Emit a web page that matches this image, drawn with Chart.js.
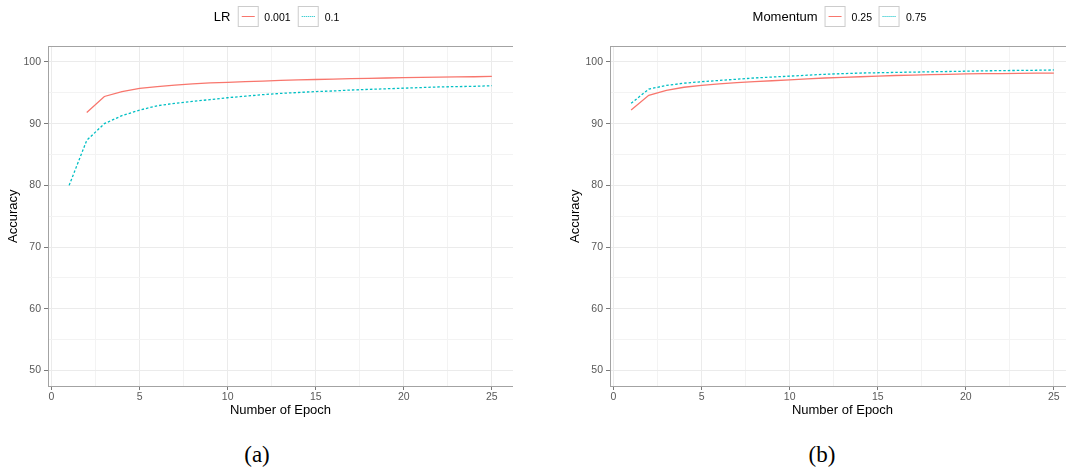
<!DOCTYPE html>
<html lang="en">
<head>
<meta charset="UTF-8">
<title>Accuracy per epoch</title>
<script src="https://cdn.jsdelivr.net/npm/chart.js@4/dist/chart.umd.min.js"></script>
<style>
    html, body { margin: 0; padding: 0; background: #fff; overflow: hidden; }
    #page { position: relative; width: 1066px; height: 472px; overflow: hidden;
            font-family: "Liberation Sans", Arial, sans-serif; }
    #page canvas { position: absolute; top: 0; }
    .legend { position: absolute; top: 6px; display: flex; align-items: center;
              transform: translateX(-50%); white-space: nowrap; color: #000; }
    .legend .title { font-size: 13px; margin-right: 7px; }
    .legend .key { width: 21px; height: 21px; border: 1px solid #cccccc; box-sizing: border-box; position: relative; }
    .legend .key span { position: absolute; left: 3px; right: 3px; top: 9px; border-top-width: 1.3px; }
    .legend .label { font-size: 10.5px; margin: 0 7px 0 6px; }
    .caption { position: absolute; top: 443px; line-height: 1; transform: translateX(-50%);
               font-family: "Liberation Serif", "Times New Roman", serif; font-size: 23px; }
</style>
</head>
<body>
<div id="page">
    <canvas id="chartLr" width="513" height="430" style="left:0px"></canvas>
    <canvas id="chartMomentum" width="513" height="430" style="left:562px"></canvas>
    <div class="legend" id="legendLr" style="left:280px"></div>
    <div class="legend" id="legendMomentum" style="left:843px"></div>
    <div class="caption" style="left:257px">(a)</div>
    <div class="caption" style="left:822px">(b)</div>
</div>

<script>
    // epochs 1..25
    const epochs = [1, 2, 3, 4, 5, 6, 7, 8, 9, 10, 11, 12, 13, 14, 15, 16, 17, 18, 19, 20, 21, 22, 23, 24, 25];
    const xTickValues = [0, 5, 10, 15, 20, 25];
    const yTickValues = [50, 60, 70, 80, 90, 100];

    // learning rate runs (no value logged at epoch 1 for 0.001)
    const lrNames = ['0.001', '0.1'];
    const accLr0001 = [null, 91.8, 94.4, 95.2, 95.7, 96.0, 96.25, 96.45, 96.6, 96.7, 96.8, 96.9, 97.0,
        97.1, 97.15, 97.2, 97.3, 97.35, 97.4, 97.45, 97.5, 97.55, 97.58, 97.6, 97.65];
    const accLr01 = [80.0, 87.3, 90.0, 91.3, 92.2, 92.9, 93.3, 93.6, 93.9, 94.2, 94.45, 94.7, 94.9,
        95.05, 95.2, 95.3, 95.45, 95.55, 95.65, 95.75, 95.85, 95.95, 96.0, 96.05, 96.15];

    // momentum runs
    const momentumNames = ['0.25', '0.75'];
    const accMom025 = [92.2, 94.6, 95.4, 95.9, 96.2, 96.45, 96.65, 96.8, 96.95, 97.1, 97.25, 97.4, 97.5,
        97.6, 97.7, 97.8, 97.85, 97.95, 98.0, 98.05, 98.1, 98.12, 98.15, 98.18, 98.2];
    const accMom075 = [93.3, 95.6, 96.2, 96.55, 96.8, 97.0, 97.2, 97.4, 97.55, 97.7, 97.85, 98.0, 98.1,
        98.2, 98.25, 98.3, 98.35, 98.4, 98.45, 98.5, 98.55, 98.6, 98.62, 98.65, 98.7];

    const RED = '#F8766D';
    const CYAN = '#00BFC4';
    const FONT = '"Liberation Sans", Arial, sans-serif';

    function toPoints(values) {
        const pts = [];
        values.forEach(function (v, i) {
            if (v !== null) pts.push({x: epochs[i], y: v});
        });
        return pts;
    }

    // labelled ticks plus an unlabelled minor tick halfway between each pair
    function withMinor(major) {
        const out = [];
        major.forEach(function (v, i) {
            out.push({value: v, major: true});
            if (i < major.length - 1) out.push({value: (v + major[i + 1]) / 2, major: false});
        });
        return out;
    }

    // frame round the plotting area, drawn over the lines
    const panelBorder = {
        id: 'panelBorder',
        afterDatasetsDraw(chart) {
            const a = chart.chartArea;
            const ctx = chart.ctx;
            ctx.save();
            ctx.strokeStyle = '#a3a3a3';
            ctx.lineWidth = 1;
            const l = Math.floor(a.left) + 0.5, t = Math.floor(a.top) + 0.5;
            ctx.strokeRect(l, t, Math.round(a.right - a.left), Math.round(a.bottom - a.top));
            ctx.restore();
        }
    };

    function gridColor(c) {
        return c.tick && c.tick.major ? '#ebebeb' : '#f3f3f3';
    }

    function tickMarkColor(c) {
        return c.tick && c.tick.major ? '#7a7a7a' : 'rgba(0,0,0,0)';
    }

    function makeChart(id, names, series) {
        const datasets = series.map(function (values, i) {
            return {
                label: names[i],
                data: toPoints(values),
                borderColor: i === 0 ? RED : CYAN,
                borderWidth: 1.3,
                borderDash: i === 0 ? [] : [2.5, 2],
                pointRadius: 0,
                tension: 0,
                fill: false
            };
        });

        return new Chart(document.getElementById(id), {
            type: 'line',
            data: {datasets: datasets},
            plugins: [panelBorder],
            options: {
                responsive: false,
                animation: false,
                devicePixelRatio: 1,
                events: [],
                layout: {padding: {top: 46.5, left: 0, right: 0, bottom: 0}},
                plugins: {legend: {display: false}, tooltip: {enabled: false}},
                scales: {
                    x: {
                        type: 'linear',
                        min: -0.2,
                        max: 26.2,
                        afterFit: function (s) { s.height = 44; },
                        afterBuildTicks: function (s) { s.ticks = withMinor(xTickValues); },
                        ticks: {
                            autoSkip: false,
                            maxRotation: 0,
                            padding: 1,
                            color: '#595959',
                            font: {family: FONT, size: 10.5},
                            callback: function (v) { return xTickValues.includes(v) ? String(v) : ''; }
                        },
                        grid: {color: gridColor, lineWidth: 1, tickLength: 4, tickColor: tickMarkColor},
                        border: {display: false},
                        title: {
                            display: true,
                            text: 'Number of Epoch',
                            color: '#000',
                            font: {family: FONT, size: 13},
                            padding: {top: 0, bottom: 12}
                        }
                    },
                    y: {
                        min: 47.5,
                        max: 102.5,
                        afterFit: function (s) { s.width = 48; },
                        afterBuildTicks: function (s) { s.ticks = withMinor(yTickValues); },
                        ticks: {
                            autoSkip: false,
                            padding: 3,
                            color: '#595959',
                            font: {family: FONT, size: 10.5},
                            callback: function (v) { return yTickValues.includes(v) ? String(v) : ''; }
                        },
                        grid: {color: gridColor, lineWidth: 1, tickLength: 4, tickColor: tickMarkColor},
                        border: {display: false},
                        title: {
                            display: true,
                            text: 'Accuracy',
                            color: '#000',
                            font: {family: FONT, size: 13},
                            padding: {top: 6, bottom: 0}
                        }
                    }
                }
            }
        });
    }

    function makeLegend(id, title, names) {
        const box = document.getElementById(id);
        const t = document.createElement('div');
        t.className = 'title';
        t.textContent = title;
        box.appendChild(t);
        names.forEach(function (name, i) {
            const key = document.createElement('div');
            key.className = 'key';
            const line = document.createElement('span');
            line.style.borderTopStyle = i === 0 ? 'solid' : 'dotted';
            line.style.borderTopColor = i === 0 ? RED : CYAN;
            key.appendChild(line);
            const lab = document.createElement('div');
            lab.className = 'label';
            lab.textContent = name;
            box.appendChild(key);
            box.appendChild(lab);
        });
    }

    makeChart('chartLr', lrNames, [accLr0001, accLr01]);
    makeChart('chartMomentum', momentumNames, [accMom025, accMom075]);
    makeLegend('legendLr', 'LR', lrNames);
    makeLegend('legendMomentum', 'Momentum', momentumNames);
</script>
</body>
</html>
